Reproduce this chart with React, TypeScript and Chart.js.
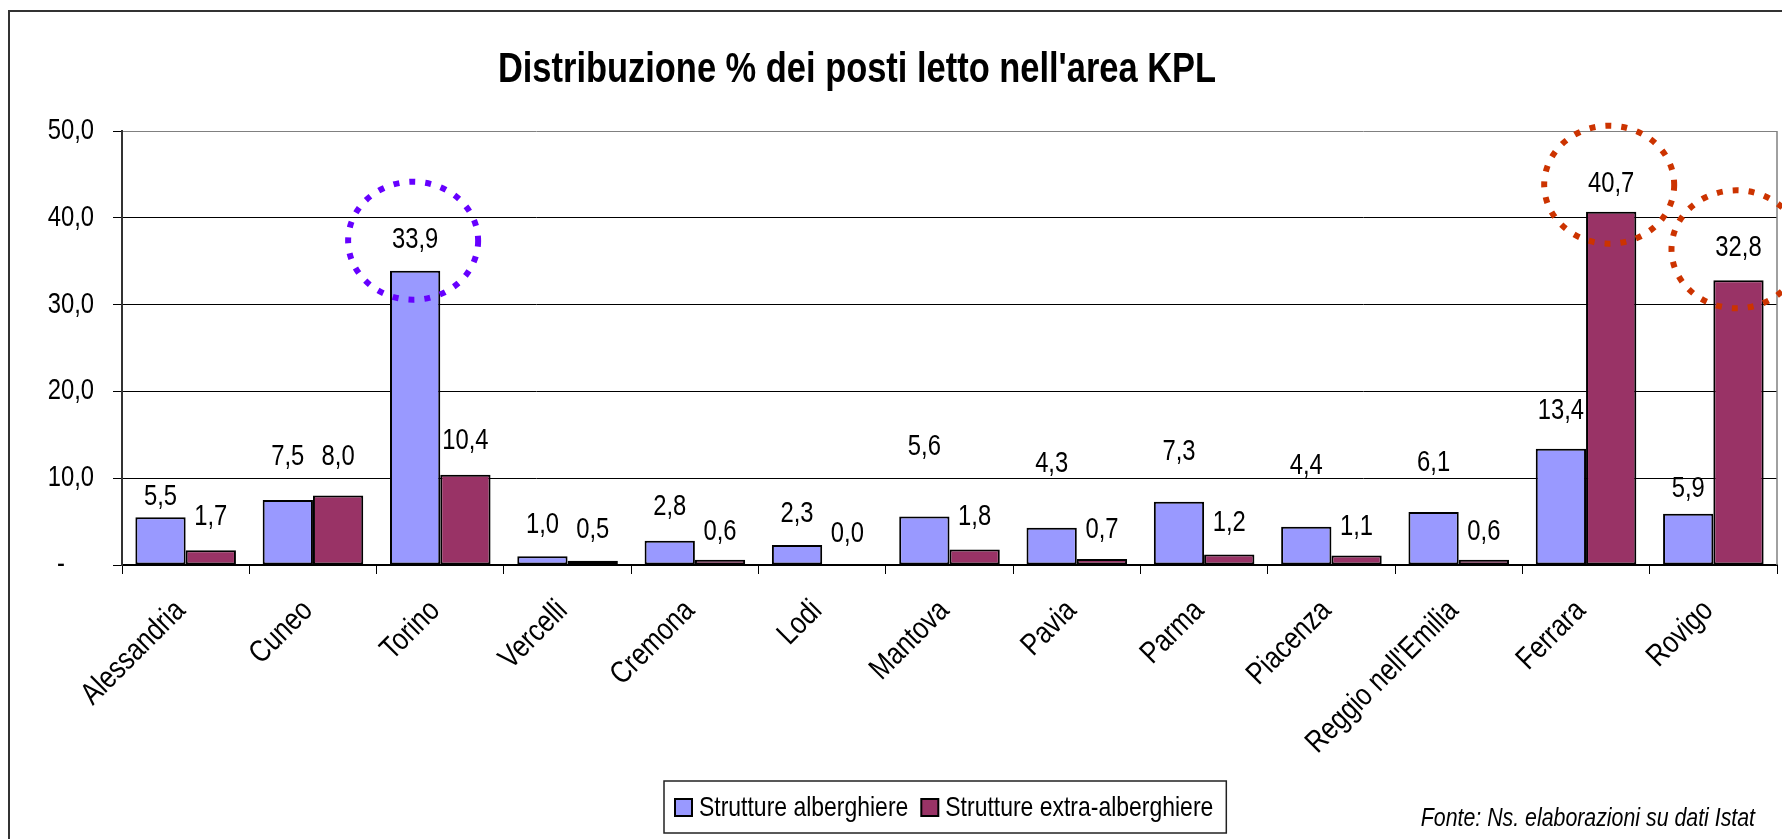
import React, { useEffect, useRef } from 'react';
import { Chart, registerables } from 'chart.js';

Chart.register(...registerables);

// Arial Narrow is emulated: Liberation Sans (Arial metrics) compressed horizontally
const FAM = "'Liberation Sans', Arial, sans-serif";
const SX = 0.82;

const categories = [
  'Alessandria', 'Cuneo', 'Torino', 'Vercelli', 'Cremona', 'Lodi', 'Mantova',
  'Pavia', 'Parma', 'Piacenza', "Reggio nell'Emilia", 'Ferrara', 'Rovigo',
];
const alberghiere = [5.5, 7.5, 33.9, 1.0, 2.8, 2.3, 5.6, 4.3, 7.3, 4.4, 6.1, 13.4, 5.9];
const extraAlberghiere = [1.7, 8.0, 10.4, 0.5, 0.6, 0.0, 1.8, 0.7, 1.2, 1.1, 0.6, 40.7, 32.8];
const yTickValues = [0, 10, 20, 30, 40, 50];
const seriesNames = ['Strutture alberghiere', 'Strutture extra-alberghiere'];
const seriesColors = ['#9999FF', '#993366'];
const chartTitle = "Distribuzione % dei posti letto nell'area KPL";
const sourceNote = 'Fonte: Ns. elaborazioni su dati Istat';

// label lift above bar top (px) – labels were hand-placed in the original
const liftA = [20, 43, 31, 31, 34, 31, 69, 64, 50, 61, 49, 38, 25];
const liftB = [33, 39, 34, 31, 28, 31, 32, 29, 32, 28, 28, 28, 32];

// dotted highlight rings: [datasetIndex, categoryIndex, colour]
const highlights: [number, number, string][] = [
  [0, 2, '#6600FF'],
  [1, 11, '#CC3300'],
  [1, 12, '#CC3300'],
];

const fmt = (v: number) => v.toFixed(1).replace('.', ',');

type TextOpts = {
  weight?: string;
  style?: string;
  align?: CanvasTextAlign;
  baseline?: CanvasTextBaseline;
  angle?: number;
};

function drawText(
  ctx: CanvasRenderingContext2D,
  text: string,
  x: number,
  y: number,
  size: number,
  o: TextOpts = {}
) {
  ctx.save();
  ctx.translate(x, y);
  if (o.angle) ctx.rotate(o.angle);
  ctx.scale(SX, 1);
  ctx.font = `${o.style || 'normal'} ${o.weight || 'normal'} ${size}px ${FAM}`;
  ctx.textAlign = o.align || 'left';
  ctx.textBaseline = o.baseline || 'alphabetic';
  ctx.fillStyle = '#000';
  ctx.fillText(text, 0, 0);
  ctx.restore();
}

function textWidth(ctx: CanvasRenderingContext2D, text: string, size: number, weight = 'normal') {
  ctx.save();
  ctx.font = `normal ${weight} ${size}px ${FAM}`;
  const w = ctx.measureText(text).width * SX;
  ctx.restore();
  return w;
}

const overlay = {
  id: 'overlay',
  afterDraw(chart: any) {
    const ctx = chart.ctx as CanvasRenderingContext2D;
    const area = chart.chartArea;
    const xs = chart.scales.x;
    const ys = chart.scales.y;
    ctx.save();

    // plot border right (gray)
    ctx.strokeStyle = '#808080';
    ctx.lineWidth = 1.5;
    ctx.beginPath();
    ctx.moveTo(area.right, area.top);
    ctx.lineTo(area.right, area.bottom);
    ctx.stroke();

    // y tick labels
    ys.ticks.forEach((t: any) => {
      const y = ys.getPixelForValue(t.value);
      if (t.value === 0) {
        drawText(ctx, '-', area.left - 57, y, 29, { align: 'right', baseline: 'middle' });
      } else {
        drawText(ctx, fmt(t.value), area.left - 28, y, 29, { align: 'right', baseline: 'middle' });
      }
    });

    // x category labels (rotated 45°)
    categories.forEach((c, i) => {
      const x = xs.getPixelForTick(i);
      drawText(ctx, c, x - 5, area.bottom + 41, 31, {
        align: 'right',
        baseline: 'middle',
        angle: -Math.PI / 4,
      });
    });

    // data labels
    const labelPos: { x: number; y: number }[][] = [];
    chart.data.datasets.forEach((ds: any, di: number) => {
      const meta = chart.getDatasetMeta(di);
      labelPos[di] = [];
      meta.data.forEach((bar: any, i: number) => {
        const lift = (di === 0 ? liftA : liftB)[i];
        const y = bar.y - lift;
        labelPos[di][i] = { x: bar.x, y };
        drawText(ctx, fmt(ds.data[i]), bar.x, y, 29, { align: 'center', baseline: 'middle' });
      });
    });

    // dotted rings
    highlights.forEach(([di, i, color]) => {
      const p = labelPos[di][i];
      ctx.strokeStyle = color;
      ctx.lineWidth = 6;
      ctx.setLineDash([6, 10]);
      ctx.beginPath();
      ctx.ellipse(p.x - 2, p.y + 1, 65, 59, 0, 0, Math.PI * 2);
      ctx.stroke();
    });
    ctx.setLineDash([]);

    // title
    drawText(ctx, chartTitle, 857, 82, 42, { weight: 'bold', align: 'center' });

    // legend
    const ls = 28;
    const w1 = textWidth(ctx, seriesNames[0], ls);
    const w2 = textWidth(ctx, seriesNames[1], ls);
    const boxLeft = 664;
    const sw = 17;
    const x1 = boxLeft + 11;
    const t1 = x1 + sw + 7;
    const x2 = t1 + w1 + 13;
    const t2 = x2 + sw + 7;
    const boxRight = t2 + w2 + 13;
    ctx.strokeStyle = '#222';
    ctx.lineWidth = 1.5;
    ctx.strokeRect(boxLeft, 781, boxRight - boxLeft, 52);
    [x1, x2].forEach((x, k) => {
      ctx.fillStyle = seriesColors[k];
      ctx.fillRect(x, 799, sw, sw);
      ctx.strokeStyle = '#000';
      ctx.lineWidth = 2;
      ctx.strokeRect(x, 799, sw, sw);
    });
    drawText(ctx, seriesNames[0], t1, 816, ls);
    drawText(ctx, seriesNames[1], t2, 816, ls);

    // source note
    drawText(ctx, sourceNote, 1755, 826, 26, { style: 'italic', align: 'right' });

    // outer frame
    ctx.strokeStyle = '#333';
    ctx.lineWidth = 2;
    ctx.beginPath();
    ctx.moveTo(9, 900);
    ctx.lineTo(9, 11);
    ctx.lineTo(1800, 11);
    ctx.stroke();

    ctx.restore();
  },
};

export default function App() {
  const ref = useRef<HTMLCanvasElement | null>(null);
  useEffect(() => {
    if (!ref.current) return;
    const chart = new Chart(ref.current, {
      type: 'bar',
      data: {
        labels: categories,
        datasets: [
          {
            label: seriesNames[0],
            data: alberghiere,
            backgroundColor: seriesColors[0],
            borderColor: '#000',
            borderWidth: 2,
            borderSkipped: false,
            categoryPercentage: 0.79,
            barPercentage: 1,
          },
          {
            label: seriesNames[1],
            data: extraAlberghiere,
            backgroundColor: seriesColors[1],
            borderColor: '#000',
            borderWidth: 2,
            borderSkipped: false,
            categoryPercentage: 0.79,
            barPercentage: 1,
          },
        ],
      },
      options: {
        responsive: false,
        animation: false,
        devicePixelRatio: 1,
        layout: { padding: { top: 131, right: 5, left: 0, bottom: 0 } },
        plugins: {
          legend: { display: false },
          title: { display: false },
          tooltip: { enabled: false },
        },
        scales: {
          x: {
            grid: {
              offset: true,
              drawOnChartArea: false,
              tickLength: 9,
              color: '#000',
              lineWidth: 1,
            },
            border: { color: '#000', width: 2 },
            ticks: { display: false, autoSkip: false },
            afterFit: (s: any) => {
              s.height = 274;
            },
          },
          y: {
            min: 0,
            max: 50,
            afterBuildTicks: (s: any) => {
              s.ticks = yTickValues.map((v) => ({ value: v }));
            },
            grid: {
              color: (c: any) => (c.tick && c.tick.value === 50 ? '#808080' : '#000'),
              lineWidth: 1,
              tickLength: 9,
              tickColor: '#000',
            },
            border: { color: '#333', width: 2 },
            ticks: { display: false },
            afterFit: (s: any) => {
              s.width = 122;
            },
          },
        },
      },
      plugins: [overlay],
    });
    return () => chart.destroy();
  }, []);
  return (
    <div style={{ position: 'absolute', left: 0, top: 0, width: 1782, height: 839, background: '#fff' }}>
      <canvas ref={ref} width={1782} height={839} style={{ display: 'block' }} />
    </div>
  );
}
